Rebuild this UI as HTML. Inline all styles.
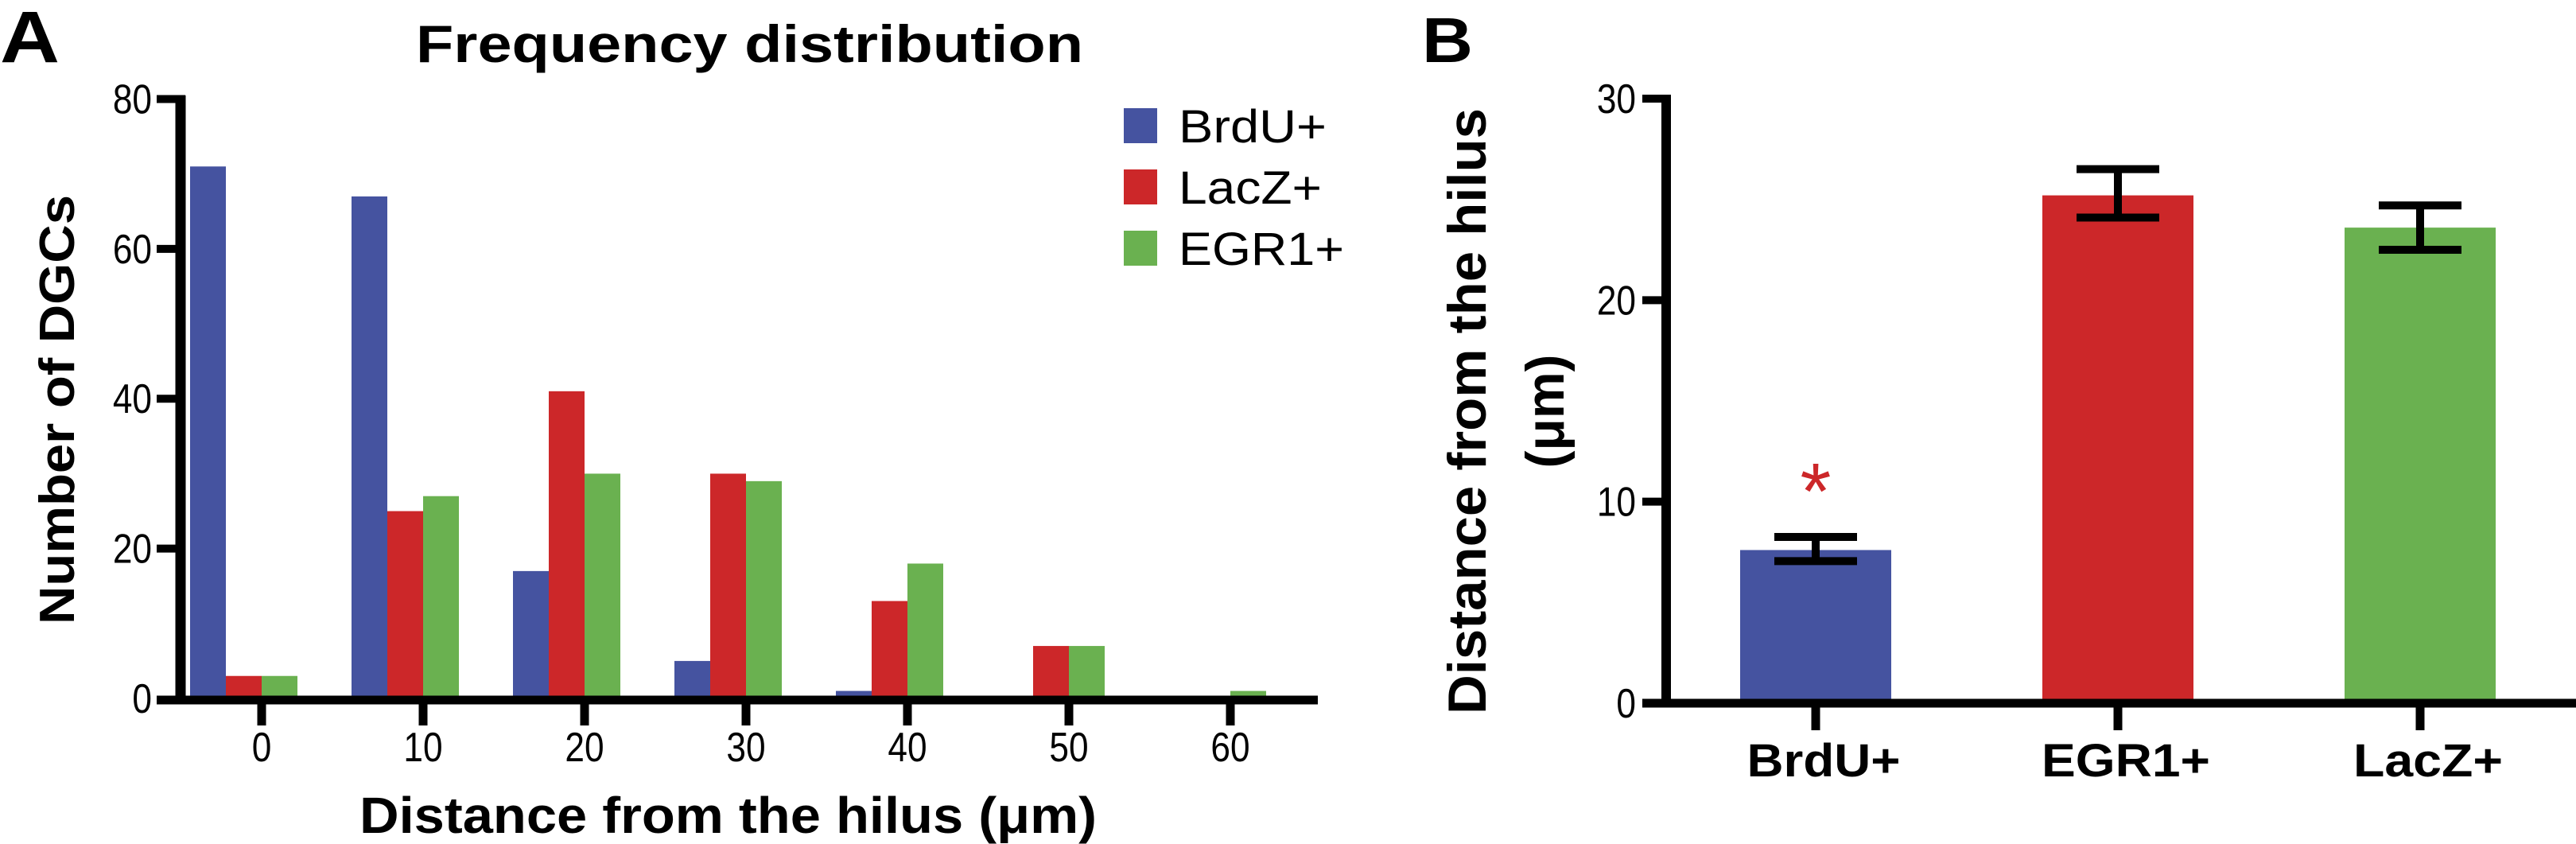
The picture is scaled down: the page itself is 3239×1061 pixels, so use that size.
<!DOCTYPE html>
<html><head><meta charset="utf-8"><style>
html,body{margin:0;padding:0;background:#fff;}
svg{display:block;}
text{font-family:"Liberation Sans",sans-serif;}
</style></head><body>
<svg id="fig" width="3239" height="1061" viewBox="0 0 3239 1061" xmlns="http://www.w3.org/2000/svg">
<g id="panelA"></g>
<g id="panelB"></g>
</svg>
<script>
// Panel A data
const aCategories = [0, 10, 20, 30, 40, 50, 60];
const aBrdU = [71, 67, 17, 5, 1, 0, 0];
const aLacZ = [3, 25, 41, 30, 13, 7, 0];
const aEGR1 = [3, 27, 30, 29, 18, 7, 1];
const aYTicks = [0, 20, 40, 60, 80];
const aSeriesNames = ["BrdU+", "LacZ+", "EGR1+"];
// Panel B data
const bCategories = ["BrdU+", "EGR1+", "LacZ+"];
const bMeans = [7.6, 25.2, 23.6];
const bErrUpper = [8.25, 26.5, 24.7];
const bErrLower = [7.05, 24.1, 22.5];
const bYTicks = [0, 10, 20, 30];

const NS = "http://www.w3.org/2000/svg";
const COLORS = ["#4553a0", "#cc2729", "#6ab150"];
function mk(parent, tag, attrs, txt) {
  const e = document.createElementNS(NS, tag);
  for (const k in attrs) e.setAttribute(k, attrs[k]);
  if (txt !== undefined) e.textContent = txt;
  parent.appendChild(e);
  return e;
}
const A = document.getElementById('panelA');
const B = document.getElementById('panelB');

// ---------- Panel A ----------
const aY = v => 878 - v * (878 - 124.5) / 80;
const aX = i => 329 + i * 203;
const bw = 45;
let t;
t = mk(A, 'text', {x: 0, y: 78, 'font-size': 92, 'font-weight': 'bold', textLength: 75, lengthAdjust: 'spacingAndGlyphs'}, 'A');
 
t = mk(A, 'text', {x: 523, y: 78, 'font-size': 66, 'font-weight': 'bold', textLength: 839, lengthAdjust: 'spacingAndGlyphs'}, 'Frequency distribution');
 

const series = [aBrdU, aLacZ, aEGR1];
series.forEach((vals, s) => {
  vals.forEach((v, i) => {
    if (v <= 0) return;
    const r = mk(A, 'rect', {x: aX(i) + (s - 2) * bw, y: aY(v), width: bw, height: aY(0) - aY(v), fill: COLORS[s]});
    
    
  });
});
let l = mk(A, 'line', {x1: 227, y1: 120, x2: 227, y2: 885, stroke: '#000', 'stroke-width': 13});
 
l = mk(A, 'line', {x1: 197, y1: 880, x2: 1657, y2: 880, stroke: '#000', 'stroke-width': 11});
 
aYTicks.forEach(v => {
  const tk = mk(A, 'line', {x1: 197, y1: aY(v) + (v === 0 ? 2 : 0), x2: 233, y2: aY(v) + (v === 0 ? 2 : 0), stroke: '#000', 'stroke-width': 10});
   
  const lb = mk(A, 'text', {x: 191, y: aY(v) + 18, 'font-size': 52, 'text-anchor': 'end', transform: `translate(191 0) scale(0.85 1) translate(-191 0)`}, String(v));
   
});
aCategories.forEach((c, i) => {
  const tk = mk(A, 'line', {x1: aX(i), y1: 880, x2: aX(i), y2: 912, stroke: '#000', 'stroke-width': 11});
   
  const lb = mk(A, 'text', {x: aX(i), y: 957, 'font-size': 52, 'text-anchor': 'middle', transform: `translate(${aX(i)} 0) scale(0.85 1) translate(${-aX(i)} 0)`}, String(c));
   
});
t = mk(A, 'text', {x: 452, y: 1047, 'font-size': 64, 'font-weight': 'bold', textLength: 927, lengthAdjust: 'spacingAndGlyphs'}, 'Distance from the hilus (μm)');
 
t = mk(A, 'text', {x: 0, y: 0, 'font-size': 62, 'font-weight': 'bold', 'text-anchor': 'middle', textLength: 540, lengthAdjust: 'spacingAndGlyphs', transform: 'translate(93 515) rotate(-90)'}, 'Number of DGCs');
 
const legY = [136, 213, 290];
const legLen = [186, 180, 208];
aSeriesNames.forEach((n, s) => {
  const g = mk(A, 'g', {});
  
  
  mk(g, 'rect', {x: 1413, y: legY[s], width: 42, height: 44, fill: COLORS[s]});
  mk(g, 'text', {x: 1482, y: legY[s] + 43, 'font-size': 58, textLength: legLen[s], lengthAdjust: 'spacingAndGlyphs'}, n);
});

// ---------- Panel B ----------
const bY = v => 884 - v * (884 - 124) / 30;
const bX = i => 2283 + i * 380;
const bBw = 190;
const bColors = [COLORS[0], COLORS[1], COLORS[2]];
t = mk(B, 'text', {x: 1788, y: 78, 'font-size': 80, 'font-weight': 'bold', textLength: 64, lengthAdjust: 'spacingAndGlyphs'}, 'B');
 
bMeans.forEach((v, i) => {
  const r = mk(B, 'rect', {x: bX(i) - bBw / 2, y: bY(v), width: bBw, height: bY(0) - bY(v), fill: bColors[i]});
  
  
  const g = mk(B, 'g', {stroke: '#000'});
  
  
  mk(g, 'line', {x1: bX(i), y1: bY(bErrUpper[i]), x2: bX(i), y2: bY(bErrLower[i]), 'stroke-width': 10});
  mk(g, 'line', {x1: bX(i) - 52, y1: bY(bErrUpper[i]), x2: bX(i) + 52, y2: bY(bErrUpper[i]), 'stroke-width': 10});
  mk(g, 'line', {x1: bX(i) - 52, y1: bY(bErrLower[i]), x2: bX(i) + 52, y2: bY(bErrLower[i]), 'stroke-width': 10});
});
t = mk(B, 'text', {x: bX(0), y: 652, 'font-size': 100, fill: '#cc2729', 'text-anchor': 'middle'}, '*');
 
l = mk(B, 'line', {x1: 2095, y1: 119, x2: 2095, y2: 889, stroke: '#000', 'stroke-width': 12});
 
l = mk(B, 'line', {x1: 2065, y1: 884, x2: 3239, y2: 884, stroke: '#000', 'stroke-width': 11});
 
bYTicks.forEach(v => {
  const tk = mk(B, 'line', {x1: 2065, y1: bY(v), x2: 2100, y2: bY(v), stroke: '#000', 'stroke-width': 10});
   
  const lb = mk(B, 'text', {x: 2057, y: bY(v) + 18, 'font-size': 52, 'text-anchor': 'end', transform: `translate(2057 0) scale(0.85 1) translate(-2057 0)`}, String(v));
   
});
const catLen = [193, 212, 188];
bCategories.forEach((c, i) => {
  const tk = mk(B, 'line', {x1: bX(i), y1: 884, x2: bX(i), y2: 918, stroke: '#000', 'stroke-width': 11});
   
  const lb = mk(B, 'text', {x: bX(i) + 10, y: 976, 'font-size': 58, 'font-weight': 'bold', 'text-anchor': 'middle', textLength: catLen[i], lengthAdjust: 'spacingAndGlyphs'}, c);
   
});
t = mk(B, 'text', {x: 0, y: 0, 'font-size': 68, 'font-weight': 'bold', 'text-anchor': 'middle', textLength: 762, lengthAdjust: 'spacingAndGlyphs', transform: 'translate(1868 517) rotate(-90)'}, 'Distance from the hilus');
 
t = mk(B, 'text', {x: 0, y: 0, 'font-size': 68, 'font-weight': 'bold', 'text-anchor': 'middle', textLength: 143, lengthAdjust: 'spacingAndGlyphs', transform: 'translate(1966 517) rotate(-90)'}, '(μm)');
 
</script>
</body></html>
